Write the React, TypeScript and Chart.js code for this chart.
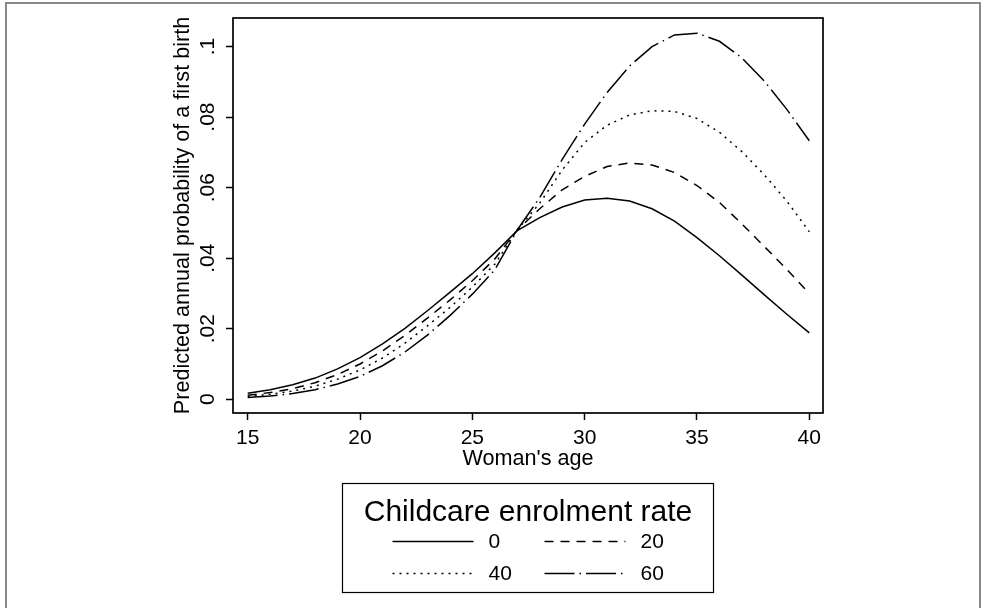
import React, { useEffect, useRef } from 'react';
import { Chart, registerables } from 'chart.js';

Chart.register(...registerables);

// ---- data ----
const ages = [15, 16, 17, 18, 19, 20, 21, 22, 23, 24, 25, 26, 27, 28, 29, 30, 31, 32, 33, 34, 35, 36, 37, 38, 39, 40];
const rate0 = [0.0017, 0.0027, 0.0041, 0.006, 0.0086, 0.0118, 0.0157, 0.0201, 0.0251, 0.0303, 0.0356, 0.0415, 0.0478, 0.0515, 0.0545, 0.0565, 0.057, 0.0562, 0.054, 0.0505, 0.0458, 0.0407, 0.0352, 0.0296, 0.0241, 0.0188];
const rate20 = [0.0011, 0.0019, 0.003, 0.0047, 0.007, 0.01, 0.0137, 0.0181, 0.023, 0.0281, 0.0336, 0.0398, 0.048, 0.054, 0.0594, 0.0632, 0.066, 0.067, 0.0664, 0.0643, 0.0606, 0.0558, 0.0497, 0.0433, 0.0368, 0.03];
const rate40 = [0.0008, 0.0014, 0.0023, 0.0037, 0.0057, 0.0083, 0.0117, 0.0159, 0.0208, 0.026, 0.0318, 0.0383, 0.048, 0.0556, 0.065, 0.0728, 0.0777, 0.0806, 0.0818, 0.0816, 0.0796, 0.0757, 0.0702, 0.0636, 0.0562, 0.0475];
const rate60 = [0.0005, 0.0009, 0.0016, 0.0027, 0.0043, 0.0065, 0.0095, 0.0134, 0.0182, 0.0237, 0.0298, 0.0367, 0.048, 0.0572, 0.068, 0.078, 0.087, 0.0945, 0.1, 0.1033, 0.1038, 0.1015, 0.0968, 0.0902, 0.0822, 0.0733];
const seriesLabels = ['0', '20', '40', '60'];
const xTicks = [15, 20, 25, 30, 35, 40];
const yTicks = [0, 0.02, 0.04, 0.06, 0.08, 0.1];
const xTitle = "Woman's age";
const yTitle = 'Predicted annual probability of a first birth';
const legendTitle = 'Childcare enrolment rate';

const FONT = '"Liberation Sans", Arial, Helvetica, sans-serif';
const W = 983;
const H = 608;

const dashes = [[], [9, 7], [2, 5], [30, 5, 1.5, 5]];

const fmtY = (v: number) => {
  if (Math.abs(v) < 1e-9) return '0';
  return String(+v.toFixed(2)).replace(/^0/, '');
};

const decorPlugin = {
  id: 'decor',
  beforeDraw(chart: any) {
    const ctx = chart.ctx;
    ctx.save();
    ctx.fillStyle = '#ffffff';
    ctx.fillRect(0, 0, W, H);
    ctx.strokeStyle = '#888888';
    ctx.lineWidth = 2;
    ctx.strokeRect(6, 3, 974, 700);
    ctx.restore();
  },
  afterDraw(chart: any) {
    const ctx = chart.ctx;
    const a = chart.chartArea;
    ctx.save();
    // plot region box
    ctx.strokeStyle = '#000';
    ctx.lineWidth = 1.7;
    ctx.setLineDash([]);
    ctx.strokeRect(a.left, a.top, a.right - a.left, a.bottom - a.top);

    // legend
    const bx = 342.5, by = 483.5, bw = 371, bh = 109;
    ctx.lineWidth = 1.2;
    ctx.strokeRect(bx, by, bw, bh);
    ctx.fillStyle = '#000';
    ctx.font = `30px ${FONT}`;
    ctx.textAlign = 'center';
    ctx.textBaseline = 'alphabetic';
    ctx.fillText(legendTitle, bx + bw / 2, by + 37);
    const rowsY = [by + 58, by + 90];
    const lineX = [bx + 50, bx + 202];
    const textX = [bx + 146, bx + 298];
    chart.data.datasets.forEach((ds: any, i: number) => {
      const col = i % 2;
      const row = Math.floor(i / 2);
      const y = rowsY[row];
      ctx.beginPath();
      ctx.setLineDash(ds.borderDash || []);
      ctx.lineWidth = ds.borderWidth;
      ctx.strokeStyle = ds.borderColor;
      ctx.moveTo(lineX[col], y);
      ctx.lineTo(lineX[col] + 81, y);
      ctx.stroke();
      ctx.setLineDash([]);
      ctx.font = `21px ${FONT}`;
      ctx.textAlign = 'left';
      ctx.textBaseline = 'middle';
      ctx.fillText(ds.label, textX[col], y + 1);
    });
    ctx.restore();
  },
};

export default function App() {
  const ref = useRef<HTMLCanvasElement | null>(null);
  useEffect(() => {
    if (!ref.current) return;
    const series = [rate0, rate20, rate40, rate60];
    const chart = new Chart(ref.current, {
      type: 'line',
      data: {
        datasets: series.map((s, i) => ({
          label: seriesLabels[i],
          data: ages.map((a, j) => ({ x: a, y: s[j] })),
          borderColor: '#000',
          borderWidth: 1.5,
          borderDash: dashes[i],
          pointRadius: 0,
          tension: 0,
          fill: false,
        })),
      },
      options: {
        animation: false,
        responsive: false,
        maintainAspectRatio: false,
        layout: { padding: { left: 0, top: 18, right: 160, bottom: 136 } },
        plugins: {
          legend: { display: false },
          tooltip: { enabled: false },
        },
        scales: {
          x: {
            type: 'linear',
            min: 14.345,
            max: 40.61,
            afterBuildTicks: (scale: any) => {
              scale.ticks = xTicks.map((v) => ({ value: v }));
            },
            afterFit: (scale: any) => {
              scale.height = 59;
            },
            border: { display: false },
            grid: {
              display: true,
              drawOnChartArea: false,
              drawTicks: true,
              tickLength: 7,
              tickWidth: 1.5,
              tickColor: '#000',
              color: '#000',
            },
            ticks: {
              autoSkip: false,
              maxRotation: 0,
              minRotation: 0,
              padding: 6,
              color: '#000',
              font: { family: FONT, size: 21 },
              callback: (v: any) => String(v),
            },
            title: {
              display: true,
              text: xTitle,
              color: '#000',
              font: { family: FONT, size: 21.6 },
              padding: { top: 0, bottom: 0 },
            },
          },
          y: {
            type: 'linear',
            min: -0.0039,
            max: 0.1081,
            afterBuildTicks: (scale: any) => {
              scale.ticks = yTicks.map((v) => ({ value: v }));
            },
            afterFit: (scale: any) => {
              scale.width = 233;
            },
            border: { display: false },
            grid: {
              display: true,
              drawOnChartArea: false,
              drawTicks: true,
              tickLength: 7,
              tickWidth: 1.5,
              tickColor: '#000',
              color: '#000',
            },
            ticks: {
              autoSkip: false,
              minRotation: 90,
              maxRotation: 90,
              crossAlign: 'center',
              padding: 3,
              color: '#000',
              font: { family: FONT, size: 21 },
              callback: (v: any) => fmtY(Number(v)),
            },
            title: {
              display: true,
              text: yTitle,
              color: '#000',
              font: { family: FONT, size: 21.6 },
              padding: { top: 170, bottom: 0 },
            },
          },
        },
      },
      plugins: [decorPlugin],
    } as any);
    return () => chart.destroy();
  }, []);
  return (
    <div style={{ position: 'absolute', left: 0, top: 0, width: W, height: H }}>
      <canvas ref={ref} width={W} height={H} style={{ width: W, height: H, display: 'block' }} />
    </div>
  );
}
